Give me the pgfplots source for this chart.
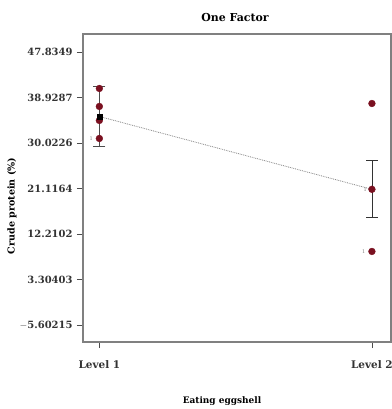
\documentclass[border=0pt]{standalone}
\usepackage{pgfplots}
\pgfplotsset{compat=1.18}
\usepackage{fontspec}
\setmainfont{DejaVu Serif}
\definecolor{dotred}{RGB}{122,16,32}
\definecolor{framegray}{RGB}{128,128,128}
\begin{document}
\begin{tikzpicture}[x=1bp,y=1bp]
\path[use as bounding box] (0,0) rectangle (392,409);
\begin{axis}[
  at={(83bp,67bp)}, anchor=south west,
  scale only axis, width=308bp, height=308bp,
  xmin=0.94, xmax=2.07,
  ymin=-8.93, ymax=51.35,
  axis line style={framegray, line width=1.6pt},
  xtick={1,2}, xticklabels={Level 1, Level 2},
  ytick={-5.60215,3.30403,12.2102,21.1164,30.0226,38.9287,47.8349},
  yticklabels={$-$5.60215,3.30403,12.2102,21.1164,30.0226,38.9287,47.8349},
  tick align=outside, tick pos=left,
  major tick length=6bp,
  tick style={black!70, line width=0.6pt},
  ticklabel style={font=\bfseries\fontsize{10}{11}\selectfont, text=black!80},
  /pgf/number format/assume math mode=true,
  xticklabel style={yshift=-9bp, font=\bfseries\fontsize{10.5}{11}\selectfont},
  yticklabel style={xshift=-1bp},
  clip=false,
]
% line joining means
\addplot[gray, densely dotted, line width=0.8pt] coordinates {(1,35.21) (2,20.95)};
% error bars
\addplot[black!70, line width=0.7pt, mark=-, mark size=6bp, mark options={line width=0.7pt}] coordinates {(1,29.34) (1,41.1)};
\addplot[black!80, line width=0.7pt, mark=-, mark size=6bp, mark options={line width=0.7pt}] coordinates {(2,15.4) (2,26.6)};
% observations
\addplot[only marks, mark=*, mark size=3.4bp, color=dotred] coordinates {
 (1,40.69) (1,37.17) (1,34.43) (1,30.9)
 (2,37.75) (2,20.95) (2,8.79)};
% means
\addplot[only marks, mark=square*, mark size=2.6bp, color=black] coordinates {(1,35.21)};
\node[font=\fontsize{5}{5}\selectfont, text=gray] at (axis cs:0.97,30.9) {1};
\node[font=\fontsize{5}{5}\selectfont, text=gray] at (axis cs:1.97,8.79) {1};
\node[font=\fontsize{5}{5}\selectfont, text=gray] at (axis cs:1.975,20.95) {1};
\end{axis}
\node[font=\bfseries\fontsize{11}{12}\selectfont] at (235,391) {One Factor};
\node[font=\bfseries\fontsize{9}{11}\selectfont] at (222,8) {Eating eggshell};
\node[font=\bfseries\fontsize{9.6}{11}\selectfont, rotate=90] at (12,203) {Crude protein (\%)};
\end{tikzpicture}
\end{document}
